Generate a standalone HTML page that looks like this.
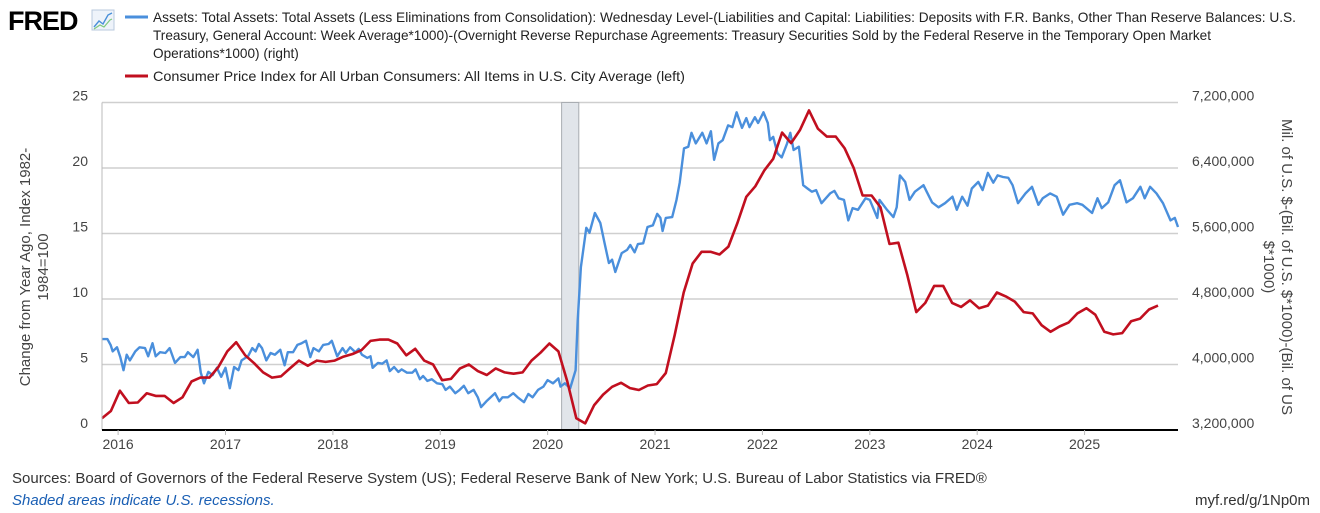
<!DOCTYPE html>
<html><head><meta charset="utf-8"><style>
body{margin:0;background:#fff;width:1320px;height:513px;overflow:hidden;font-family:"Liberation Sans",sans-serif}
svg{display:block}
</style></head><body>
<svg id="chart" width="1320" height="513" viewBox="0 0 1320 513">
<g>
<text x="8" y="30" font-size="27" font-weight="bold" fill="#000" letter-spacing="-1">FRED</text>
<rect x="92" y="10" width="22" height="20" fill="#eef3fa" stroke="#b8c8dd" stroke-width="1"/>
<polyline points="94,27 99,21 103,24 108,15 112,13" fill="none" stroke="#4a90d9" stroke-width="1.4"/>
<polyline points="94,29 100,25 104,27 110,20 112,19" fill="none" stroke="#7fc97f" stroke-width="1.2"/>
</g>
<g font-size="13.6" fill="#222">
<g>
<line x1="125" y1="17" x2="148" y2="17" stroke="#4a8fdc" stroke-width="3"/>
<text x="153" y="22" textLength="1143" lengthAdjust="spacingAndGlyphs">Assets: Total Assets: Total Assets (Less Eliminations from Consolidation): Wednesday Level-(Liabilities and Capital: Liabilities: Deposits with F.R. Banks, Other Than Reserve Balances: U.S.</text>
<text x="153" y="40" textLength="1058" lengthAdjust="spacingAndGlyphs">Treasury, General Account: Week Average*1000)-(Overnight Reverse Repurchase Agreements: Treasury Securities Sold by the Federal Reserve in the Temporary Open Market</text>
<text x="153" y="58">Operations*1000) (right)</text>
</g>
<g>
<line x1="125" y1="76" x2="148" y2="76" stroke="#c10f1f" stroke-width="3"/>
<text x="153" y="81" textLength="532" lengthAdjust="spacingAndGlyphs">Consumer Price Index for All Urban Consumers: All Items in U.S. City Average (left)</text>
</g>
</g>
<g id="grid"></g>
<g id="rec"></g>
<g id="series"></g>
<g id="axes"></g>
<text transform="translate(30,267) rotate(-90)" text-anchor="middle" font-size="15" fill="#444"><tspan x="0" dy="0">Change from Year Ago, Index 1982-</tspan><tspan x="0" dy="18">1984=100</tspan></text>
<text transform="translate(1282,267) rotate(90)" text-anchor="middle" font-size="15" fill="#444"><tspan x="0" dy="0">Mil. of U.S. $-(Bil. of U.S. $*1000)-(Bil. of US</tspan><tspan x="0" dy="18">$*1000)</tspan></text>
<text x="12" y="483" font-size="15" fill="#333">Sources: Board of Governors of the Federal Reserve System (US); Federal Reserve Bank of New York; U.S. Bureau of Labor Statistics via FRED®</text>
<text x="12" y="505" font-size="15" font-style="italic" fill="#1a5fb4">Shaded areas indicate U.S. recessions.</text>
<text x="1310" y="505" font-size="15" fill="#333" text-anchor="end">myf.red/g/1Np0m</text>
</svg>
<script>
const leftTicks=[0,5,10,15,20,25];
const rightTicks=["3,200,000","4,000,000","4,800,000","5,600,000","6,400,000","7,200,000"];
const xYears=[2016,2017,2018,2019,2020,2021,2022,2023,2024,2025];
const recessionStart=2020.13, recessionEnd=2020.29;
const cpiStart=2015.85;
const cpiValues=[0.9,1.45,3.0,2.06,2.1,2.8,2.6,2.6,2.06,2.5,3.7,4.0,4.0,4.8,6.0,6.7,5.7,5.1,4.4,4.0,4.1,4.7,5.3,4.9,5.3,5.2,5.3,5.6,5.8,6.1,6.8,6.9,6.9,6.6,5.7,6.2,5.3,5.0,3.8,3.9,4.7,5.0,4.5,4.2,4.7,4.4,4.3,4.4,5.3,5.9,6.6,6.0,3.7,0.9,0.5,1.9,2.7,3.3,3.6,3.2,3.05,3.4,3.5,4.35,7.25,10.5,12.7,13.6,13.6,13.4,14.0,15.8,17.8,18.6,19.8,20.7,22.7,21.9,22.9,24.4,23.0,22.4,22.4,21.5,20.0,17.9,17.9,17.0,14.2,14.3,11.8,9.0,9.7,11.0,11.0,9.7,9.4,9.9,9.3,9.5,10.5,10.2,9.8,9.0,8.9,8.0,7.5,7.9,8.2,8.9,9.3,8.8,7.5,7.3,7.4,8.3,8.5,9.2,9.5];
const assetDates=[2015.85,2015.90,2015.93,2015.95,2015.99,2016.02,2016.05,2016.08,2016.11,2016.16,2016.20,2016.25,2016.28,2016.32,2016.35,2016.39,2016.44,2016.48,2016.53,2016.58,2016.62,2016.65,2016.70,2016.74,2016.77,2016.80,2016.84,2016.88,2016.92,2016.96,2017.00,2017.04,2017.08,2017.12,2017.15,2017.21,2017.25,2017.28,2017.31,2017.34,2017.38,2017.42,2017.46,2017.51,2017.55,2017.58,2017.63,2017.67,2017.71,2017.75,2017.79,2017.82,2017.87,2017.91,2017.96,2017.99,2018.04,2018.09,2018.12,2018.16,2018.21,2018.24,2018.27,2018.32,2018.35,2018.37,2018.42,2018.46,2018.50,2018.53,2018.57,2018.61,2018.64,2018.69,2018.74,2018.77,2018.81,2018.84,2018.88,2018.92,2018.97,2019.02,2019.05,2019.09,2019.14,2019.18,2019.22,2019.26,2019.31,2019.35,2019.38,2019.43,2019.47,2019.51,2019.55,2019.58,2019.63,2019.68,2019.72,2019.78,2019.82,2019.86,2019.91,2019.96,2020.00,2020.05,2020.10,2020.12,2020.16,2020.21,2020.26,2020.28,2020.31,2020.36,2020.39,2020.44,2020.49,2020.53,2020.57,2020.60,2020.63,2020.69,2020.74,2020.77,2020.81,2020.84,2020.89,2020.93,2020.98,2021.02,2021.05,2021.07,2021.10,2021.16,2021.20,2021.23,2021.27,2021.31,2021.34,2021.38,2021.44,2021.48,2021.52,2021.55,2021.59,2021.63,2021.68,2021.72,2021.76,2021.81,2021.85,2021.88,2021.93,2021.96,2022.01,2022.05,2022.07,2022.10,2022.14,2022.18,2022.23,2022.26,2022.29,2022.34,2022.38,2022.42,2022.46,2022.50,2022.55,2022.59,2022.63,2022.67,2022.71,2022.76,2022.80,2022.84,2022.89,2022.96,2023.00,2023.07,2023.09,2023.16,2023.22,2023.25,2023.28,2023.33,2023.37,2023.42,2023.50,2023.53,2023.58,2023.64,2023.70,2023.77,2023.81,2023.86,2023.91,2023.95,2024.01,2024.05,2024.10,2024.15,2024.19,2024.24,2024.29,2024.33,2024.38,2024.45,2024.51,2024.57,2024.61,2024.68,2024.74,2024.80,2024.86,2024.93,2024.98,2025.07,2025.12,2025.16,2025.22,2025.28,2025.33,2025.39,2025.45,2025.52,2025.56,2025.61,2025.67,2025.73,2025.80,2025.84,2025.87];
const assetValues=[4.31,4.31,4.24,4.16,4.21,4.09,3.93,4.12,4.05,4.16,4.21,4.20,4.10,4.26,4.10,4.15,4.14,4.20,4.02,4.09,4.09,4.15,4.09,4.18,3.90,3.77,3.91,3.87,3.96,3.85,3.96,3.71,3.97,3.93,4.05,4.10,4.20,4.16,4.25,4.20,4.05,4.14,4.12,4.18,3.99,4.15,4.15,4.24,4.26,4.29,4.09,4.20,4.16,4.24,4.25,4.29,4.10,4.20,4.14,4.21,4.15,4.19,4.12,4.08,4.10,3.96,4.02,4.01,4.05,3.92,3.97,3.91,3.94,3.90,3.90,3.94,3.82,3.86,3.80,3.82,3.77,3.76,3.69,3.73,3.65,3.69,3.74,3.65,3.69,3.60,3.48,3.55,3.60,3.65,3.55,3.60,3.60,3.65,3.60,3.54,3.64,3.60,3.69,3.73,3.81,3.77,3.83,3.73,3.77,3.71,3.93,4.54,5.19,5.67,5.61,5.85,5.73,5.48,5.24,5.28,5.13,5.36,5.40,5.46,5.37,5.47,5.48,5.68,5.70,5.84,5.79,5.63,5.79,5.80,6.01,6.22,6.64,6.66,6.83,6.70,6.83,6.70,6.85,6.50,6.70,6.74,6.92,6.90,7.08,6.89,7.01,6.90,7.02,6.95,7.08,6.95,6.74,6.78,6.58,6.53,6.70,6.83,6.62,6.66,6.19,6.15,6.11,6.13,5.97,6.03,6.09,6.12,6.03,6.01,5.76,5.91,5.89,6.03,6.01,5.79,6.01,5.89,5.80,5.92,6.31,6.23,6.01,6.11,6.19,6.11,5.98,5.92,5.97,6.05,5.89,6.05,5.94,6.15,6.23,6.13,6.34,6.22,6.31,6.29,6.28,6.19,5.97,6.09,6.17,5.95,6.03,6.09,6.05,5.83,5.95,5.97,5.95,5.85,6.03,5.91,5.98,6.19,6.25,5.98,6.03,6.17,6.03,6.17,6.09,5.97,5.76,5.79,5.68];
const NS="http://www.w3.org/2000/svg";
const X0=102,X1=1178,T0=2015.85,T1=2025.87,YB=430,YT=102.5;
function xs(t){return X0+(t-T0)/(T1-T0)*(X1-X0);}
function yl(v){return YB-(v/25)*(YB-YT);}
function yr(m){return YB-((m-3.2)/4.0)*(YB-YT);}
function mk(tag,attrs,parent){const e=document.createElementNS(NS,tag);for(const k in attrs)e.setAttribute(k,attrs[k]);parent.appendChild(e);return e;}
const grid=document.getElementById('grid'),axes=document.getElementById('axes'),series=document.getElementById('series'),rec=document.getElementById('rec');
leftTicks.forEach((v,i)=>{
  const y=yl(v);
  if(v>0){const g=mk('line',{x1:X0,x2:X1,y1:y,y2:y,stroke:'#cfcfcf','stroke-width':1.5},grid);
  
  }
  const t=mk('text',{x:88,y:y-2,'text-anchor':'end','font-size':14,fill:'#444'},axes);
  t.textContent=v;
  
  
  const r=mk('text',{x:1192,y:y-2,'font-size':14,fill:'#444'},axes);
  r.textContent=rightTicks[i];
  
  
});
const rr=mk('rect',{x:xs(recessionStart),y:YT,width:xs(recessionEnd)-xs(recessionStart),height:YB-YT,fill:'#e1e5ea',stroke:'#a9adb2','stroke-width':1},rec);


const la=mk('line',{x1:X0,x2:X0,y1:YT,y2:YB,stroke:'#bbb','stroke-width':1},axes);


const xa=mk('line',{x1:X0,x2:X1,y1:YB,y2:YB,stroke:'#000','stroke-width':2},axes);


xYears.forEach(yv=>{
  const x=xs(yv);
  const tk=mk('line',{x1:x,x2:x,y1:YB,y2:YB+5,stroke:'#bbb'},axes);
  
  
  const t=mk('text',{x:x,y:449,'text-anchor':'middle','font-size':14,fill:'#444'},axes);
  t.textContent=yv;
  
  
});
const bp=assetDates.map((d,i)=>xs(d).toFixed(1)+','+yr(assetValues[i]).toFixed(1)).join(' ');
const bl=mk('polyline',{points:bp,fill:'none',stroke:'#4a8fdc','stroke-width':2.4,'stroke-linejoin':'round'},series);


const rp=cpiValues.map((v,i)=>xs(cpiStart+i/12).toFixed(1)+','+yl(v).toFixed(1)).join(' ');
const rl=mk('polyline',{points:rp,fill:'none',stroke:'#c10f1f','stroke-width':2.6,'stroke-linejoin':'round'},series);


</script>
</body></html>
